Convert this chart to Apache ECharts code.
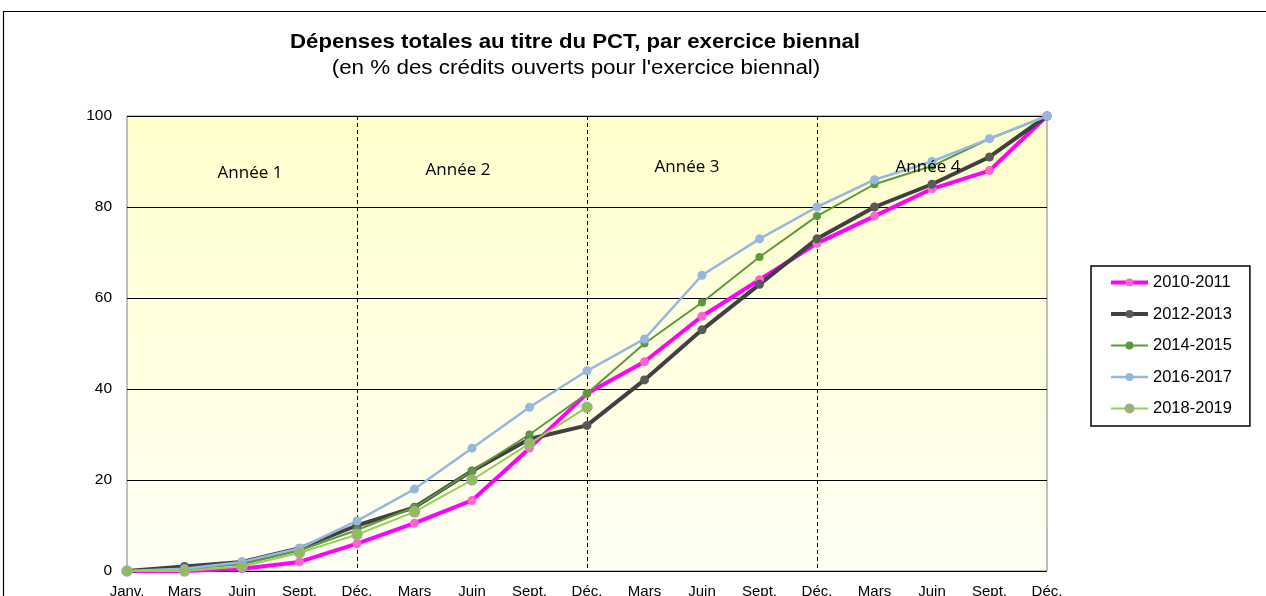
<!DOCTYPE html>
<html>
<head>
<meta charset="utf-8">
<script src="https://cdn.jsdelivr.net/npm/echarts@6/dist/echarts.min.js"></script>
<style>
  html, body { margin: 0; padding: 0; background: #fff; }
  #chart { width: 1266px; height: 596px; }
</style>
</head>
<body>
<div id="chart"></div>
<script>
const categories = ["Janv.", "Mars", "Juin", "Sept.", "Déc.", "Mars", "Juin", "Sept.", "Déc.",
  "Mars", "Juin", "Sept.", "Déc.", "Mars", "Juin", "Sept.", "Déc."];

const s2010 = [0, 0, 0.5, 2, 6, 10.5, 15.5, 27, 39, 46, 56, 64, 72, 78, 84, 88, 100];
const s2012 = [0, 1, 2, 5, 10, 14, 22, 29, 32, 42, 53, 63, 73, 80, 85, 91, 100];
const s2014 = [0, 0.5, 1.5, 4.5, 9, 14, 22, 30, 39, 50, 59, 69, 78, 85, 89, 95, 100];
const s2016 = [0, 0.5, 2, 5, 11, 18, 27, 36, 44, 51, 65, 73, 80, 86, 90, 95, 100];
const s2018 = [0, 0, 1, 4, 8, 13, 20, 28, 36];

const yearLabels = ["Année 1", "Année 2", "Année 3", "Année 4"];
const yTicks = [0, 20, 40, 60, 80, 100];

const chart = echarts.init(document.getElementById("chart"));

// positions of the "Année" labels inside the plot
const yearPos = [[250, 173], [458, 170], [687, 167], [928, 167]];

const mkSeries = (name, data, color, width, symColor, size, border) => ({
  name: name,
  type: "line",
  data: data,
  symbol: "circle",
  symbolSize: size,
  showAllSymbol: true,
  lineStyle: { color: color, width: width },
  itemStyle: {
    color: symColor,
    borderColor: border || symColor,
    borderWidth: border ? 1.5 : 0,
  },
  emphasis: { disabled: true },
  animation: false,
});

const legendItem = (name, w) => ({ name: name, lineStyle: { width: w } });

const option = {
  backgroundColor: "#fff",
  textStyle: { fontFamily: "Liberation Sans, Arial, sans-serif" },
  legend: {
    orient: "vertical",
    left: 1091,
    top: 266,
    padding: [8, 18, 9, 18],
    itemWidth: 37,
    itemHeight: 10,
    itemGap: 14.5,
    borderColor: "#000",
    borderWidth: 1.5,
    textStyle: { fontSize: 16.5, color: "#000", fontFamily: "Liberation Sans" },
    data: [
      legendItem("2010-2011", 4),
      legendItem("2012-2013", 4),
      legendItem("2014-2015", 2),
      legendItem("2016-2017", 2.5),
      legendItem("2018-2019", 2),
    ],
  },
  grid: {
    left: 127,
    right: 219,
    top: 116,
    bottom: 25,
    containLabel: false,
    outerBoundsMode: "none",
    show: true,
    borderColor: "#808080",
    borderWidth: 1,
    backgroundColor: {
      type: "linear", x: 0, y: 0, x2: 0, y2: 1,
      colorStops: [
        { offset: 0, color: "#FFFFCC" },
        { offset: 1, color: "#FFFFF5" },
      ],
    },
  },
  xAxis: {
    type: "category",
    data: categories,
    boundaryGap: false,
    axisLine: { show: false },
    axisTick: { show: false },
    axisLabel: { color: "#000", fontSize: 15, margin: 13, interval: 0 },
    splitLine: {
      show: true,
      interval: (i) => i > 0 && i < categories.length - 1 && i % 4 === 0,
      lineStyle: { color: "#000", type: [4, 3], width: 1 },
    },
  },
  yAxis: {
    type: "value",
    min: yTicks[0],
    max: yTicks[yTicks.length - 1],
    interval: 20,
    axisLine: { show: false },
    axisTick: { show: false },
    axisLabel: { color: "#000", fontSize: 15.5, margin: 15 },
    splitLine: { lineStyle: { color: "#000", width: 1 } },
  },
  graphic: [
    {
      type: "rect",
      x: 3.5, y: 11.5, z: -1, silent: true,
      shape: { width: 1300, height: 700 },
      style: { fill: "none", stroke: "#000", lineWidth: 1.2 },
    },
    {
      type: "text",
      x: 575, y: 42, scaleX: 1.11, silent: true,
      style: {
        text: "Dépenses totales au titre du PCT, par exercice biennal",
        align: "center", verticalAlign: "middle",
        font: 'bold 20px "Liberation Sans", Arial, sans-serif',
        fill: "#000",
      },
    },
    {
      type: "text",
      x: 576, y: 68, scaleX: 1.12, silent: true,
      style: {
        text: "(en % des crédits ouverts pour l'exercice biennal)",
        align: "center", verticalAlign: "middle",
        font: '20px "Liberation Sans", Arial, sans-serif',
        fill: "#000",
      },
    },
  ].concat(yearLabels.map((t, i) => ({
    type: "text",
    x: yearPos[i][0],
    y: yearPos[i][1],
    z: 5,
    silent: true,
    style: {
      text: t,
      align: "center",
      verticalAlign: "middle",
      font: '17px "Open Sans", sans-serif',
      fill: "#000",
    },
  }))),
  series: [
    mkSeries("2010-2011", s2010, "#FF00FF", 4, "#FF66CC", 9),
    mkSeries("2012-2013", s2012, "#404040", 4, "#595959", 9),
    mkSeries("2014-2015", s2014, "#5A9A3A", 2, "#5A9A3A", 8),
    mkSeries("2016-2017", s2016, "#95B7E0", 2.5, "#95B7E0", 9),
    mkSeries("2018-2019", s2018, "#92D050", 2, "#8CC152", 10, "#A6A6A6"),
  ],
};

chart.setOption(option);
</script>
</body>
</html>
